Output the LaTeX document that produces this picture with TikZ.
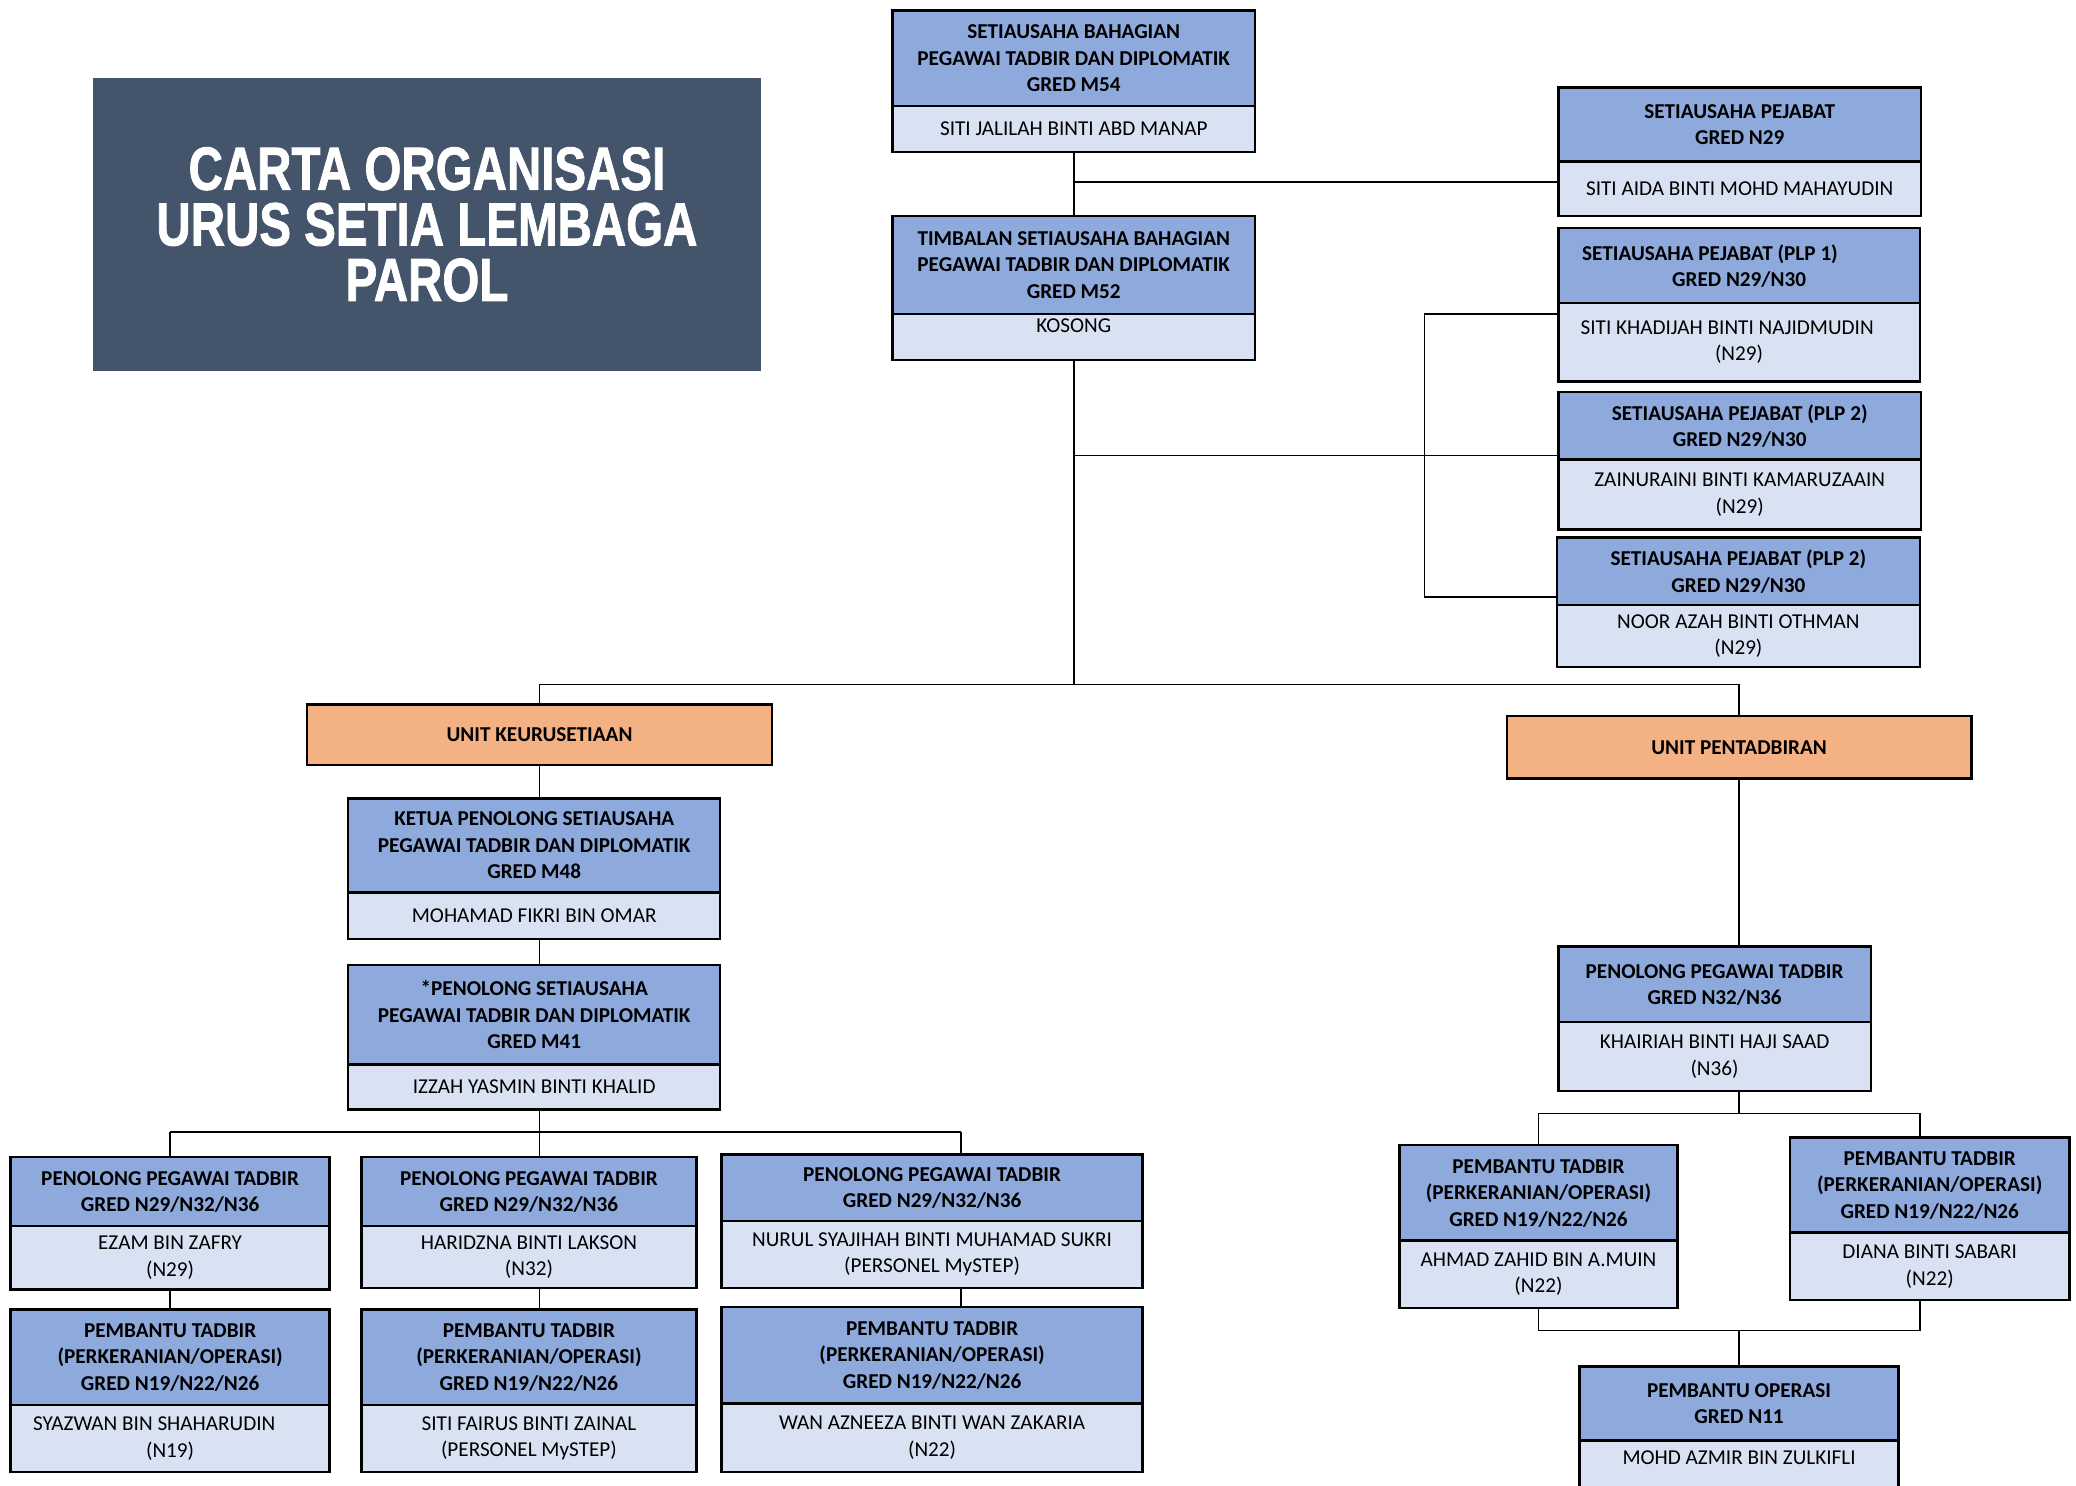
\documentclass[tikz,border=0pt]{standalone}
\usepackage{fontspec}
\usepackage{graphicx}
\setmainfont{Carlito}
\newfontfamily\titlefont{Liberation Sans}[BoldFont={Liberation Sans Bold}, BoldFeatures={FakeBold=1.5}]
\definecolor{hdrblue}{HTML}{8EA9DB}
\definecolor{nmblue}{HTML}{D9E2F3}
\definecolor{unitorange}{HTML}{F4B183}
\definecolor{titlebg}{HTML}{44546A}
\newcommand\obox[9][]{%
  \node[hdr, minimum width={(#4-#3)*1pt}, minimum height={(#6-#5)*1pt}] (#2-h) at (#3,#5) {#8};
  \node[nm, minimum width={(#4-#3)*1pt}, minimum height={(#7-#6)*1pt}, #1] (#2-n) at (#3,#6) {#9};
}
\newcommand\tline[1]{\scalebox{0.78}[1]{#1}}
\begin{document}
\begin{tikzpicture}[x=1pt, y=-1pt,
  hdr/.style={draw=black, line width=1.8pt, fill=hdrblue, inner sep=0pt, outer sep=0pt, align=center, anchor=north west, text depth=-4pt, font=\fontsize{16}{20}\selectfont\bfseries},
  nm/.style={draw=black, line width=1.8pt, fill=nmblue, inner sep=0pt, outer sep=0pt, align=center, anchor=north west, font=\fontsize{16}{20}\selectfont},
  unit/.style={draw=black, line width=1.8pt, fill=unitorange, inner sep=0pt, outer sep=0pt, anchor=north west, minimum width=351pt, font=\fontsize{16}{20}\selectfont\bfseries},
  conn/.style={draw=black, line width=1.2pt}]
\useasboundingbox (0,0) rectangle (1568,1122);

% title
\node[fill=titlebg, minimum width=505pt, minimum height=221pt, inner sep=0pt, outer sep=0pt, anchor=north west, text=white, align=center, font=\titlefont\fontsize{46}{42}\selectfont\bfseries] (title) at (70,59)
  {\tline{CARTA ORGANISASI}\\\tline{URUS SETIA LEMBAGA}\\\tline{PAROL}};

% top
\obox{sbh}{674}{948}{8}{80}{115}{SETIAUSAHA BAHAGIAN\\PEGAWAI TADBIR DAN DIPLOMATIK\\GRED M54}{SITI JALILAH BINTI ABD MANAP}
\obox[text depth=17pt]{tsb}{674}{948}{163}{237}{272}{TIMBALAN SETIAUSAHA BAHAGIAN\\PEGAWAI TADBIR DAN DIPLOMATIK\\GRED M52}{KOSONG}

% right column
\obox{sp}{1177}{1451}{66}{122}{163}{SETIAUSAHA PEJABAT\\GRED N29}{SITI AIDA BINTI MOHD MAHAYUDIN}
\obox{plp1}{1177}{1450}{172}{229}{288}{SETIAUSAHA PEJABAT (PLP 1)\hspace*{44pt}\\GRED N29/N30}{SITI KHADIJAH BINTI NAJIDMUDIN\hspace*{18pt}\\(N29)}
\obox{plp2a}{1177}{1451}{296}{347}{400}{SETIAUSAHA PEJABAT (PLP 2)\\GRED N29/N30}{ZAINURAINI BINTI KAMARUZAAIN\\(N29)}
\obox{plp2b}{1176}{1450}{406}{457}{504}{SETIAUSAHA PEJABAT (PLP 2)\\GRED N29/N30}{NOOR AZAH BINTI OTHMAN\\(N29)}

% units
\node[unit, minimum height=46pt] (ku) at (232,532) {UNIT KEURUSETIAAN};
\node[unit, minimum height=47pt] (up) at (1138,541) {UNIT PENTADBIRAN};

% left branch
\obox{kps}{263}{544}{603}{674}{709}{KETUA PENOLONG SETIAUSAHA\\PEGAWAI TADBIR DAN DIPLOMATIK\\GRED M48}{MOHAMAD FIKRI BIN OMAR}
\obox{ps}{263}{544}{729}{804}{838}{*PENOLONG SETIAUSAHA\\PEGAWAI TADBIR DAN DIPLOMATIK\\GRED M41}{IZZAH YASMIN BINTI KHALID}
\obox{ppt1}{8}{249}{874}{926}{974}{PENOLONG PEGAWAI TADBIR\\GRED N29/N32/N36}{EZAM BIN ZAFRY\\(N29)}
\obox{ppt2}{273}{526}{874}{926}{973}{PENOLONG PEGAWAI TADBIR\\GRED N29/N32/N36}{HARIDZNA BINTI LAKSON\\(N32)}
\obox{ppt3}{545}{863}{872}{922}{973}{PENOLONG PEGAWAI TADBIR\\GRED N29/N32/N36}{NURUL SYAJIHAH BINTI MUHAMAD SUKRI\\(PERSONEL MySTEP)}
\obox{pt1}{8}{249}{989}{1061}{1112}{PEMBANTU TADBIR\\(PERKERANIAN/OPERASI)\\GRED N19/N22/N26}{SYAZWAN BIN SHAHARUDIN\hspace*{24pt}\\(N19)}
\obox{pt2}{273}{526}{989}{1061}{1112}{PEMBANTU TADBIR\\(PERKERANIAN/OPERASI)\\GRED N19/N22/N26}{SITI FAIRUS BINTI ZAINAL\\(PERSONEL MySTEP)}
\obox{pt3}{545}{863}{987}{1060}{1112}{PEMBANTU TADBIR\\(PERKERANIAN/OPERASI)\\GRED N19/N22/N26}{WAN AZNEEZA BINTI WAN ZAKARIA\\(N22)}

% right branch
\obox{pptr}{1177}{1413}{715}{772}{824}{PENOLONG PEGAWAI TADBIR\\GRED N32/N36}{KHAIRIAH BINTI HAJI SAAD\\(N36)}
\obox{ptr1}{1057}{1267}{865}{937}{988}{PEMBANTU TADBIR\\(PERKERANIAN/OPERASI)\\GRED N19/N22/N26}{AHMAD ZAHID BIN A.MUIN\\(N22)}
\obox{ptr2}{1352}{1563}{859}{931}{982}{PEMBANTU TADBIR\\(PERKERANIAN/OPERASI)\\GRED N19/N22/N26}{DIANA BINTI SABARI\\(N22)}
\obox[text depth=26pt]{po}{1193}{1434}{1032}{1088}{1140}{PEMBANTU OPERASI\\GRED N11}{MOHD AZMIR BIN ZULKIFLI}

% helper coordinates
\coordinate (bus) at (0,517);
\coordinate (lbus) at (0,855);
\coordinate (rbus1) at (0,841);
\coordinate (rbus2) at (0,1005);
\coordinate (xr) at (1076,0);
\coordinate (x3) at (726,0);
\coordinate (x4) at (1450,0);

% top connectors
\draw[conn] (sbh-n.south) -- (tsb-h.north);
\coordinate (spj) at ([shift={(0,-5)}]sp-n.west);
\draw[conn] (spj) -- (spj -| sbh-n.south);
\draw[conn] (tsb-n.south) -- (tsb-n.south |- bus);
\coordinate (p2j) at ([shift={(0,-3)}]plp2a-h.south west);
\draw[conn] (p2j) -- (p2j -| tsb-n.south);
\coordinate (p1j) at ([shift={(0,8)}]plp1-n.north west);
\coordinate (p3j) at ([shift={(0,-6)}]plp2b-h.south west);
\draw[conn] (p1j) -- (p1j -| xr) -- (p3j -| xr) -- (p3j);
\draw[conn] (ku.north) -- (ku.north |- bus) -- (up.north |- bus) -- (up.north);

% left connectors
\draw[conn] (ku.south) -- (ku.south |- kps-h.north);
\draw[conn] (ku.south |- kps-n.south) -- (ku.south |- ps-h.north);
\draw[conn] (ku.south |- ps-n.south) -- (ku.south |- lbus);
\draw[conn] (ppt1-h.north |- lbus) -- (x3 |- lbus);
\draw[conn] (ppt1-h.north |- lbus) -- (ppt1-h.north);
\draw[conn] (ku.south |- lbus) -- (ku.south |- ppt2-h.north);
\draw[conn] (x3 |- lbus) -- (x3 |- ppt3-h.north);
\draw[conn] (ppt1-n.south) -- (pt1-h.north);
\draw[conn] (ku.south |- ppt2-n.south) -- (ku.south |- pt2-h.north);
\draw[conn] (x3 |- ppt3-n.south) -- (x3 |- pt3-h.north);

% right connectors
\draw[conn] (up.south) -- (up.south |- pptr-h.north);
\draw[conn] (up.south |- pptr-n.south) -- (up.south |- rbus1);
\draw[conn] (ptr1-h.north) -- (ptr1-h.north |- rbus1) -- (x4 |- rbus1) -- (x4 |- ptr2-h.north);
\draw[conn] (ptr1-n.south) -- (ptr1-n.south |- rbus2) -- (x4 |- rbus2) -- (x4 |- ptr2-n.south);
\draw[conn] (up.south |- rbus2) -- (up.south |- po-h.north);
\end{tikzpicture}
\end{document}
